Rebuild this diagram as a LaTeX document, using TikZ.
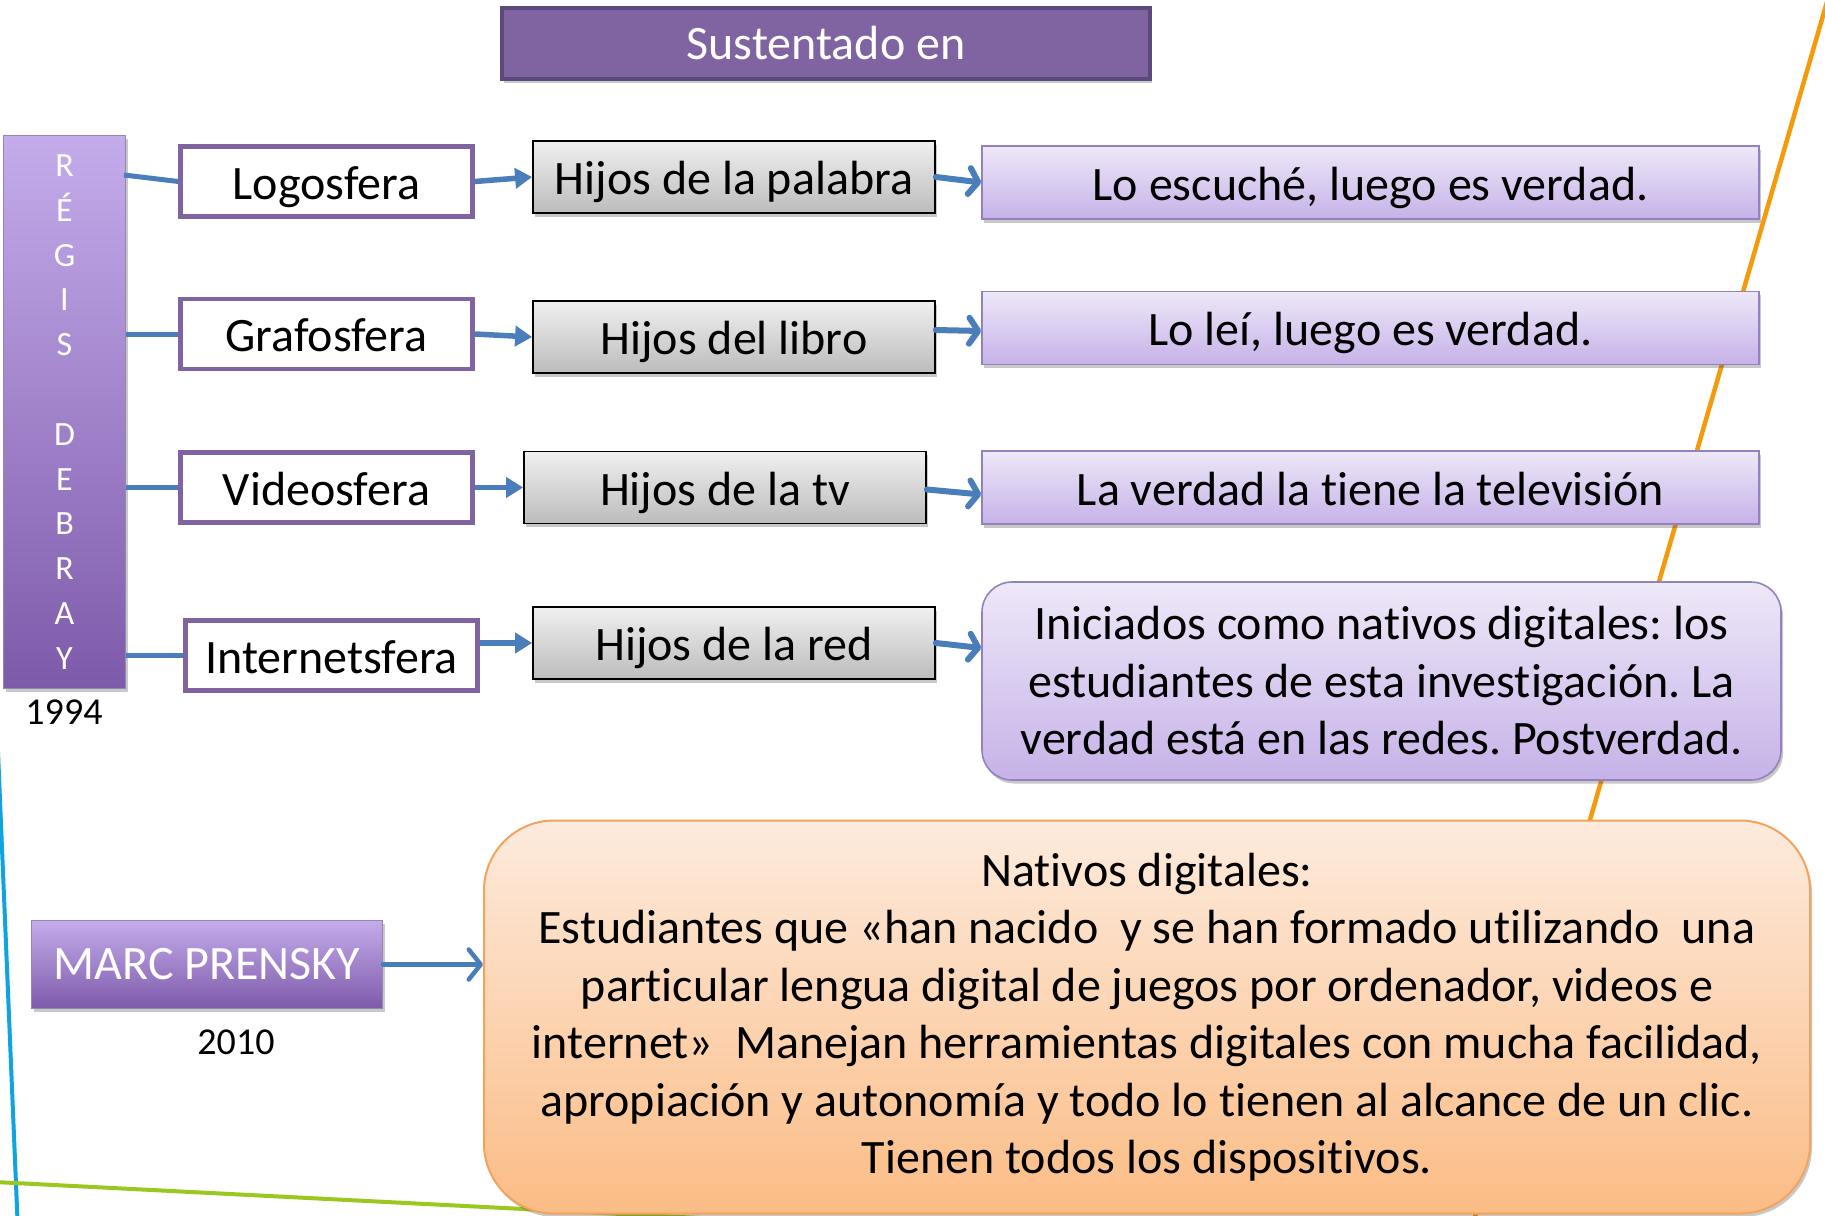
\documentclass[tikz,border=0pt]{standalone}
\usepackage{fontspec}
\setmainfont{Carlito}[Ligatures=CommonOff]
\usetikzlibrary{arrows.meta,shadows,calc}
\definecolor{purp}{HTML}{8064A2}
\definecolor{purpdark}{HTML}{5C4A7C}
\definecolor{lavtop}{HTML}{C4ACEB}
\definecolor{lavbot}{HTML}{7E5AAA}
\definecolor{connc}{HTML}{4A7EBB}
\definecolor{liltop}{HTML}{EEE8F8}
\definecolor{lilbot}{HTML}{C6B2E8}
\definecolor{lilborder}{HTML}{9482BE}
\definecolor{peachtop}{HTML}{FDEBDD}
\definecolor{peachbot}{HTML}{FBBC85}
\definecolor{peachborder}{HTML}{F4A35E}
\definecolor{orangeline}{HTML}{F59A0A}
\definecolor{blueline}{HTML}{11A3DF}
\definecolor{greenline}{HTML}{99C81E}
\definecolor{graytop}{HTML}{F0F0F0}
\definecolor{graybot}{HTML}{BCBCBC}
\newcommand\mytxt{\fontsize{48}{57.5}\selectfont}
\newcommand\regtxt{\fontsize{34}{44.8}\selectfont}
\newcommand\yeartxt{\fontsize{38}{44}\selectfont}
\frenchspacing
\begin{document}
\begin{tikzpicture}[x=1pt,y=-1pt,
  softshadow/.style={drop shadow={shadow xshift=2pt,shadow yshift=-3.5pt,opacity=0.3,fill=black!70}},
  oneline/.style={text height=36pt,text depth=1pt},
  sfera/.style={draw=purp,line width=4.5pt,fill=white,minimum width=292pt,minimum height=70pt,inner sep=0pt,font=\mytxt,oneline},
  hijo/.style={draw=black,line width=1.8pt,top color=graytop,bottom color=graybot,minimum width=402pt,minimum height=72pt,inner sep=0pt,font=\mytxt,oneline,softshadow},
  rbox/.style={draw=lilborder,line width=1.6pt,top color=liltop,bottom color=lilbot,minimum width=777pt,minimum height=73pt,inner sep=0pt,font=\mytxt,softshadow},
  link/.style={draw=connc,line width=5pt},
  sarrow/.style={draw=connc,line width=5.5pt,-{Triangle[length=17pt,width=20pt]}},
  barb/.style={draw=connc,line width=6pt,line cap=round,-{Straight Barb[length=9pt,width=26pt,round]}},
  marcarrow/.style={draw=connc,line width=4.5pt,line cap=round,-{Straight Barb[length=12pt,width=30pt,round]}}
]
\useasboundingbox (0,0) rectangle (1825,1215);
\fill[white] (0,0) rectangle (1825,1215);
% background decorative lines
\draw[orangeline,line width=4.5pt] (1829,-5) -- (1474,1220);
\draw[blueline,line width=4pt] (-5,680) -- (17.5,1220);
\draw[greenline,line width=4pt] (-5,1182) -- (700,1218);

% title
\node[draw=purpdark,line width=4pt,fill=purp,minimum width=648pt,minimum height=71pt,inner sep=0pt,text=white,font=\mytxt,softshadow] (sust) at (826,43.5) {Sustentado en};

% Regis Debray bar
\node[draw=purp!80,line width=1pt,top color=lavtop,bottom color=lavbot,minimum width=122pt,minimum height=553pt,inner sep=0pt,text=white,font=\regtxt,align=center,softshadow] (regis) at (64.5,412) {R\\É\\G\\I\\S\\[44.8pt]D\\E\\B\\R\\A\\Y};
\node[font=\yeartxt,inner sep=0pt] (y1994) at (64,712) {1994};

% sferas
\node[sfera] (logo) at (326.5,181.5) {Logosfera};
\node[sfera] (grafo) at (326.5,334) {Grafosfera};
\node[sfera] (video) at (326.5,487.5) {Videosfera};
\node[sfera] (inter) at (331.5,655.5) {Internetsfera};

% hijos
\node[hijo] (hp) at (734,177) {Hijos de la palabra};
\node[hijo] (hl) at (734,337) {Hijos del libro};
\node[hijo] (htv) at (725,487.5) {Hijos de la tv};
\node[hijo] (hr) at (734,643) {Hijos de la red};

% right boxes
\node[rbox,oneline] (r1) at (1370.5,182.5) {Lo escuché, luego es verdad.};
\node[rbox,oneline] (r2) at (1370.5,328) {Lo leí, luego es verdad.};
\node[rbox,oneline] (r3) at (1370.5,487.5) {La verdad la tiene la televisión};
\node[rbox,rounded corners=30pt,minimum width=799pt,minimum height=198pt,align=center] (r4) at (1381.5,681)
  {Iniciados como nativos digitales: los\\estudiantes de esta investigación. La\\verdad está en las redes. Postverdad.};

% Marc Prensky
\node[draw=purp!80,line width=1pt,top color=lavtop,bottom color=lavbot,minimum width=351pt,minimum height=88pt,inner sep=0pt,text=white,font=\mytxt,softshadow] (marc) at (207,964.5) {MARC PRENSKY};
\node[font=\yeartxt,inner sep=0pt] (y2010) at (236,1042) {2010};

\node[draw=peachborder,line width=2pt,rounded corners=70pt,top color=peachtop,bottom color=peachbot,minimum width=1326pt,minimum height=393pt,inner sep=0pt,font=\mytxt,align=center,softshadow] (nat) at (1147,1017)
  {Nativos digitales:\\Estudiantes que «han nacido~ y se han formado utilizando~ una\\particular lengua digital de juegos por ordenador, videos e\\internet»~ Manejan herramientas digitales con mucha facilidad,\\apropiación y autonomía y todo lo tienen al alcance de un clic.\\Tienen todos los dispositivos.};

% links from Regis bar
\draw[link] ($(regis.east |- logo.west)+(-2,-6.5)$) -- (logo.west);
\draw[link] (regis.east |- grafo.west) -- (grafo.west);
\draw[link] (regis.east |- video.west) -- (video.west);
\draw[link] (regis.east |- inter.west) -- (inter.west);

% sfera -> hijos
\draw[sarrow] (logo.east) -- (hp.west);
\draw[sarrow] (grafo.east) -- (hl.west);
\draw[sarrow] (video.east) -- (htv.west);
\draw[sarrow] (inter.east |- hr.west) -- (hr.west);

% hijos -> right boxes
\draw[barb] (hp.east) -- (r1.west);
\draw[barb] ([yshift=7pt]hl.east) -- ([yshift=-3pt]r2.west);
\draw[barb] ([yshift=-2pt]htv.east) -- ([yshift=-7pt]r3.west);
\draw[barb] (hr.east) -- ([yshift=33pt]r4.west);

% Marc -> nativos
\draw[marcarrow] (marc.east) -- (nat.west |- marc.east);
\end{tikzpicture}
\end{document}
